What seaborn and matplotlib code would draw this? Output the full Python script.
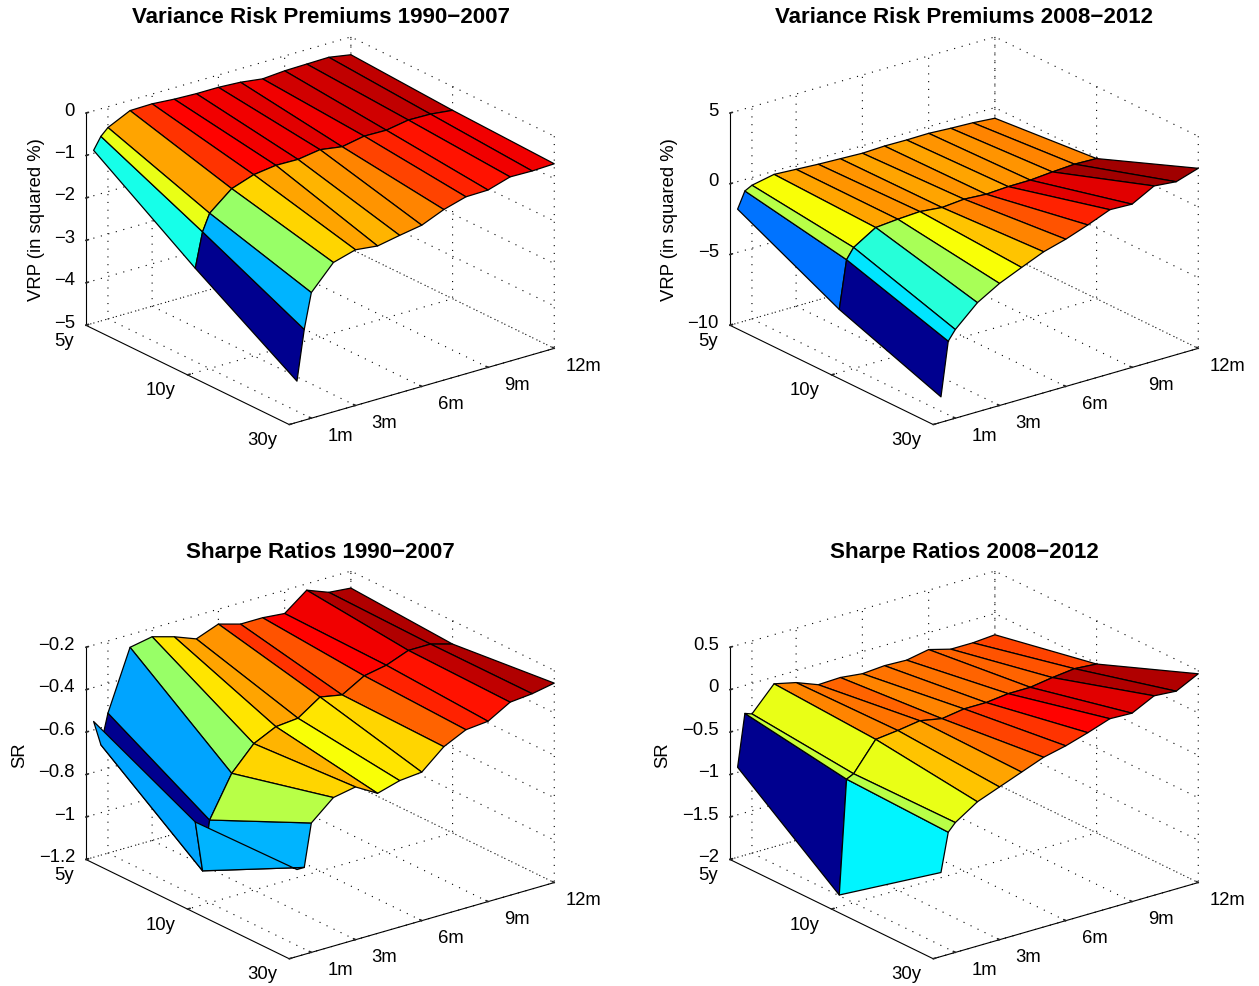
import numpy as np
import matplotlib
matplotlib.use('Agg')
import matplotlib.pyplot as plt
from matplotlib.colors import LinearSegmentedColormap, Normalize
from mpl_toolkits.mplot3d import proj3d
import seaborn as sns

sns.set_theme(style='white')
plt.rcParams['font.family'] = ['Liberation Sans', 'DejaVu Sans']

# horizon in months, two short maturities sit before 1m
horizon = [0.35, 0.68, 1, 2, 3, 4, 5, 6, 7, 8, 9, 10, 11, 12]
maturity = [0, 1, 2]
maturity_labels = ['30y', '10y', '5y']
horizon_ticks = [1, 3, 6, 9, 12]
horizon_labels = ['1m', '3m', '6m', '9m', '12m']

# rows run 30y, 10y, 5y
vrp_early_30y = [-4.03, -2.86, -2.04, -1.48, -1.33, -1.39, -1.29, -1.20, -0.98, -0.83, -0.82, -0.66, -0.67, -0.65]
vrp_early_10y = [-2.54, -1.73, -1.34, -0.91, -0.73, -0.66, -0.67, -0.59, -0.67, -0.57, -0.58, -0.49, -0.50, -0.56]
vrp_early_5y = [-0.93, -0.65, -0.49, -0.24, -0.23, -0.27, -0.29, -0.29, -0.32, -0.39, -0.35, -0.34, -0.33, -0.42]

vrp_late_30y = [-8.20, -4.41, -3.73, -2.28, -1.37, -0.69, -0.03, 0.41, 0.97, 1.60, 1.54, 2.38, 2.23, 2.73]
vrp_late_10y = [-5.53, -2.16, -1.44, -0.48, -0.34, -0.25, -0.41, -0.27, -0.37, -0.28, -0.27, -0.14, -0.04, -0.09]
vrp_late_5y = [-1.95, -0.81, -0.55, -0.23, -0.32, -0.41, -0.47, -0.53, -0.47, -0.49, -0.47, -0.56, -0.62, -0.75]

sr_early_30y = [-0.79, -0.79, -0.59, -0.50, -0.48, -0.54, -0.51, -0.50, -0.41, -0.36, -0.35, -0.29, -0.28, -0.26]
sr_early_10y = [-0.80, -1.04, -0.81, -0.62, -0.51, -0.46, -0.45, -0.38, -0.40, -0.34, -0.32, -0.28, -0.28, -0.31]
sr_early_5y = [-0.56, -0.68, -0.54, -0.26, -0.24, -0.27, -0.31, -0.27, -0.30, -0.30, -0.31, -0.23, -0.27, -0.28]

sr_late_30y = [-1.01, -0.56, -0.47, -0.30, -0.20, -0.10, 0.00, 0.06, 0.14, 0.23, 0.22, 0.35, 0.33, 0.46]
sr_late_10y = [-1.86, -0.52, -0.48, -0.15, -0.12, -0.08, -0.13, -0.09, -0.09, -0.06, -0.06, -0.02, 0.01, -0.01]
sr_late_5y = [-0.94, -0.33, -0.36, -0.08, -0.14, -0.24, -0.23, -0.26, -0.24, -0.25, -0.20, -0.27, -0.27, -0.25]

# old matlab jet, 64 levels
jet = LinearSegmentedColormap.from_list('mjet', [
    (0, (0, 0, 0.5625)), (1 / 8, (0, 0, 1)), (3 / 8, (0, 1, 1)),
    (5 / 8, (1, 1, 0)), (7 / 8, (1, 0, 0)), (1, (0.5, 0, 0))], N=64)

W, H = 1259, 986
FS = 13.3
fig = plt.figure(figsize=(W / 100, H / 100), dpi=100, facecolor='white')


def tick_text(ax, M, x, y, z, text, offset, ha):
    # matlab puts its tick labels further off than axis3d does
    px, py, _ = proj3d.proj_transform(x, y, z, M)
    ax.annotate(text, xy=(px, py), xytext=offset, textcoords='offset pixels', ha=ha, va='center',
                fontsize=FS, color='black', annotation_clip=False)


def panel(cx, cy, rows, zlim, zticks, zlabels, title, title_xy, ylabel, ylabel_xy):
    size = 560
    ax = fig.add_axes([(cx - size / 2) / W, 1 - (cy + size / 2) / H, size / W, size / H],
                      projection='3d', facecolor='none')
    ax.set_proj_type('ortho')
    ax.view_init(elev=22, azim=-127.5)
    ax.set_box_aspect((1, 1, 0.685), zoom=0.91)

    X, Y = np.meshgrid(horizon, maturity)
    Z = np.array(rows)
    colors = jet(Normalize(Z.min(), Z.max())(Z))
    ax.plot_surface(X, Y, Z, facecolors=colors, rstride=1, cstride=1, shade=False,
                    edgecolor='black', linewidth=0.9)

    ax.set_xlim(0, 12)
    ax.set_ylim(0, 2)
    ax.set_zlim(*zlim)
    ax.set_xticks(horizon_ticks, [''] * len(horizon_ticks))
    ax.set_yticks(maturity, [''] * len(maturity))
    ax.set_zticks(zticks, [''] * len(zticks))

    for axis in (ax.xaxis, ax.yaxis, ax.zaxis):
        axis.pane.set_visible(False)
        axis.line.set_color('black')
        axis.line.set_linewidth(0.8)
        axis._axinfo['grid'].update(color='black', linestyle=(0, (1, 6)), linewidth=0.8)
        axis._axinfo['tick'].update(inward_factor=0.0, outward_factor=0.12)

    M = ax.get_proj()
    for x, lab in zip(horizon_ticks, horizon_labels):
        tick_text(ax, M, x, 0, zlim[0], lab, (29, -18), 'center')
    for y, lab in zip(maturity, maturity_labels):
        tick_text(ax, M, 0, y, zlim[0], lab, (-12, -16), 'right')
    for z, lab in zip(zticks, zlabels):
        tick_text(ax, M, 0, 2, z, lab, (-11, 2), 'right')

    fig.text(title_xy[0] / W, 1 - title_xy[1] / H, title, ha='center', va='center',
             fontsize=16.1, fontweight='bold', color='black')
    fig.text(ylabel_xy[0] / W, 1 - ylabel_xy[1] / H, ylabel, ha='center', va='center',
             rotation=90, fontsize=FS, color='black')
    return ax


panel(312.5, 238.3, [vrp_early_30y, vrp_early_10y, vrp_early_5y], (-5, 0),
      [-5, -4, -3, -2, -1, 0], ['\u22125', '\u22124', '\u22123', '\u22122', '\u22121', '0'],
      'Variance Risk Premiums 1990\u22122007', (321, 17.5), 'VRP (in squared %)', (37, 220))
panel(956.5, 238.3, [vrp_late_30y, vrp_late_10y, vrp_late_5y], (-10, 5),
      [-10, -5, 0, 5], ['\u221210', '\u22125', '0', '5'],
      'Variance Risk Premiums 2008\u22122012', (964, 17.5), 'VRP (in squared %)', (669, 220))
panel(312.5, 772.5, [sr_early_30y, sr_early_10y, sr_early_5y], (-1.2, -0.2),
      [-1.2, -1, -0.8, -0.6, -0.4, -0.2], ['\u22121.2', '\u22121', '\u22120.8', '\u22120.6', '\u22120.4', '\u22120.2'],
      'Sharpe Ratios 1990\u22122007', (320, 552.5), 'SR', (20, 755))
panel(956.5, 772.5, [sr_late_30y, sr_late_10y, sr_late_5y], (-2, 0.5),
      [-2, -1.5, -1, -0.5, 0, 0.5], ['\u22122', '\u22121.5', '\u22121', '\u22120.5', '0', '0.5'],
      'Sharpe Ratios 2008\u22122012', (964, 552.5), 'SR', (663, 755))

fig.savefig('out.png', dpi=100)
